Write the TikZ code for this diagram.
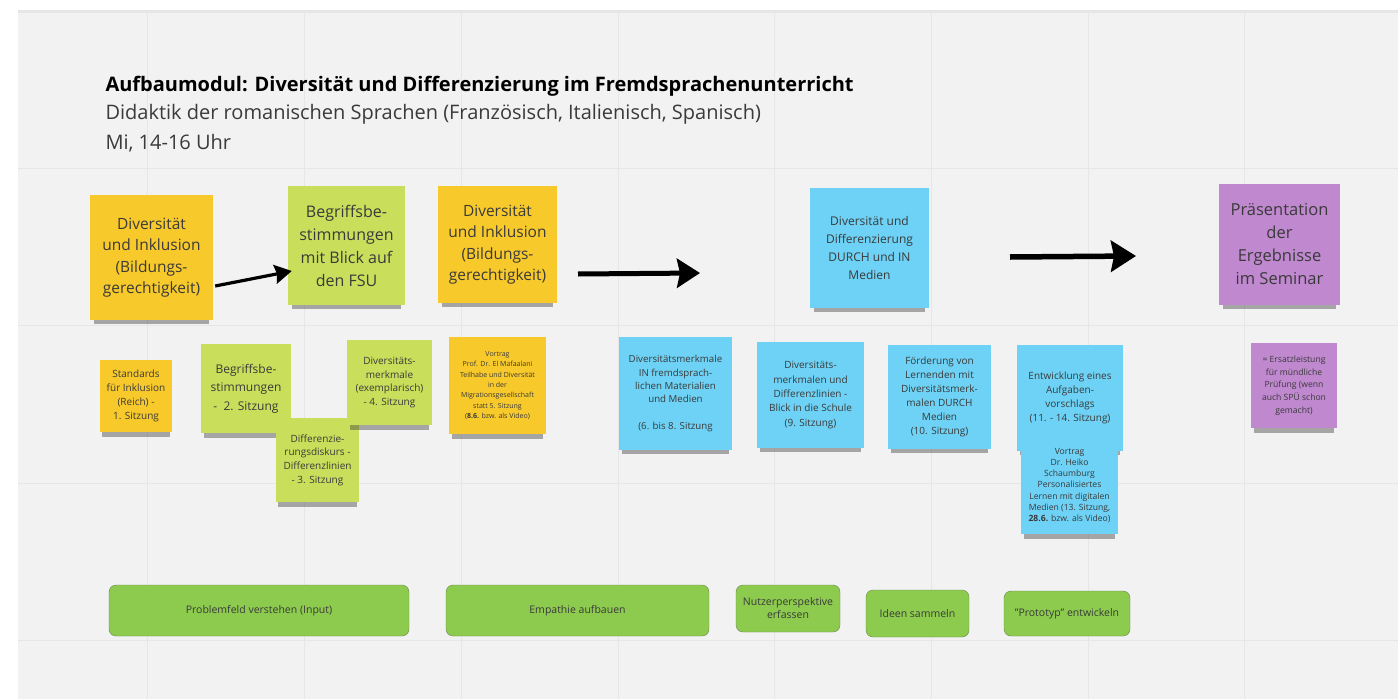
\documentclass[tikz,border=0pt]{standalone}
\usepackage{fontspec}
\setmainfont{Open Sans}
\usetikzlibrary{arrows.meta,shadows}
\definecolor{board}{HTML}{F2F2F2}
\definecolor{gridline}{HTML}{E6E6E6}
\definecolor{ngelb}{HTML}{F7C92B}
\definecolor{ngruen}{HTML}{C9DF5B}
\definecolor{nblau}{HTML}{6DD2F5}
\definecolor{nlila}{HTML}{BF88CF}
\definecolor{phasegruen}{HTML}{8DCB4F}
\definecolor{phaserand}{HTML}{6C8450}
\definecolor{notetext}{HTML}{3A3A3A}
\newcommand\fs[2]{\fontsize{#1}{#2}\selectfont}

\begin{document}
\begin{tikzpicture}[x=1pt,y=-1pt,
  note/.style={align=center,text=notetext,inner sep=2pt,
    drop shadow={shadow xshift=0pt,shadow yshift=-8pt,shadow scale=.94,opacity=.4,fill=black!80}},
  sz/.style 2 args={minimum width=#1,minimum height=#2},
  phase/.style={draw=phaserand,fill=phasegruen,rounded corners=7pt,align=center,
    text=notetext,font=\fs{10.5}{13}},
  bigarrow/.style={line width=5pt,-{Stealth[length=23pt,width=29pt,inset=3pt]}}]
\useasboundingbox (0,0) rectangle (1398,699);
\fill[white] (0,0) rectangle (1398,699);
\fill[board] (18,10) rectangle (1398,699);
\fill[gridline] (18,10) rectangle (1398,13);
\foreach \gx in {147,304,461,618,774,931,1088,1244}
  \draw[gridline,line width=1pt] (\gx,13) -- (\gx,699);
\foreach \gy in {168,325,483,640}
  \draw[gridline,line width=1pt] (18,\gy) -- (1398,\gy);

% Kopf
\node[anchor=west,font=\bfseries\fs{20}{24}] (titel) at (102,86)
  {Aufbaumodul: Diversität und Differenzierung im Fremdsprachenunterricht};
\node[anchor=west,text=notetext,font=\fs{20}{24}] (fach) at (102,114)
  {Didaktik der romanischen Sprachen (Französisch, Italienisch, Spanisch)};
\node[anchor=west,text=notetext,font=\fs{20}{24}] (zeit) at (102,143) {Mi, 14-16 Uhr};

% grosse Zettel
\node[note,fill=ngelb,sz={123}{125},font=\fs{15.5}{21.5}] (div1) at (151.5,257.5)
  {Diversität\\und Inklusion\\(Bildungs-\\gerechtigkeit)};
\node[note,fill=ngruen,sz={117}{119},font=\fs{16}{23}] (begr) at (346.5,245.5)
  {Begriffsbe-\\stimmungen\\mit Blick auf\\den FSU};
\node[note,fill=ngelb,sz={119}{117},font=\fs{15.5}{21.5}] (div2) at (497.5,244.5)
  {Diversität\\und Inklusion\\(Bildungs-\\gerechtigkeit)};
\node[note,fill=nblau,sz={119}{120},font=\fs{12}{18}] (medien) at (869.5,248)
  {Diversität und\\Differenzierung\\DURCH und IN\\Medien};
\node[note,fill=nlila,sz={121}{121},font=\fs{16.5}{23}] (praes) at (1279.5,244.5)
  {Präsentation\\der\\Ergebnisse\\im Seminar};

% kleine Zettel
\node[note,fill=ngelb,sz={72}{72},font=\fs{10}{14}] (std) at (136,396)
  {Standards\\für Inklusion\\(Reich) -\\1. Sitzung};
\node[note,fill=ngruen,sz={90}{89},font=\fs{12}{18.5}] (begr2) at (246,388.5)
  {Begriffsbe-\\stimmungen\\ - \ 2. Sitzung};
\node[note,fill=ngruen,sz={83}{84},font=\fs{10}{13.7}] (diff) at (317.5,460)
  {Differenzie-\\rungsdiskurs -\\Differenzlinien\\- 3. Sitzung};
\node[note,fill=ngruen,sz={85}{85},font=\fs{10}{13.5}] (merk) at (389.5,382.5)
  {Diversitäts-\\merkmale\\(exemplarisch)\\- 4. Sitzung};
\node[note,fill=ngelb,sz={97}{97},font=\fs{7}{10.3}] (vortrag1) at (497.5,385.5)
  {Vortrag\\Prof. Dr. El Mafaalani\\Teilhabe und Diversität\\in der\\Migrationsgesellschaft\\statt 5. Sitzung\\(\textbf{8.6.} bzw. als Video)};
\node[note,fill=nblau,sz={113}{113},font=\fs{9.7}{13.3}] (mat) at (675.5,393.5)
  {Diversitätsmerkmale\\IN fremdsprach-\\lichen Materialien\\und Medien\\[13.3pt](6. bis 8. Sitzung};
\node[note,fill=nblau,sz={107}{106},font=\fs{10}{14.3}] (schule) at (810.5,395)
  {Diversitäts-\\merkmalen und\\Differenzlinien -\\Blick in die Schule\\(9. Sitzung)};
\node[note,fill=nblau,sz={103}{104},font=\fs{10}{14}] (foerd) at (939.5,397)
  {Förderung von\\Lernenden mit\\Diversitätsmerk-\\malen DURCH\\Medien\\(10. Sitzung)};
\node[note,fill=nblau,sz={106}{106},font=\fs{10}{14}] (aufg) at (1070,398)
  {Entwicklung eines\\Aufgaben-\\vorschlags\\(11. - 14. Sitzung)};
\node[note,fill=nblau,sz={97}{97},font=\fs{8.6}{11.2}] (vortrag2) at (1069.5,485.5)
  {Vortrag\\Dr. Heiko\\Schaumburg\\Personalisiertes\\Lernen mit digitalen\\Medien (13. Sitzung,\\\textbf{28.6.} bzw. als Video)};
\node[note,fill=nlila,sz={86}{85},font=\fs{8.6}{12.7}] (ersatz) at (1294,385.5)
  {= Ersatzleistung\\für mündliche\\Prüfung (wenn\\auch SPÜ schon\\gemacht)};

% Pfeile
\coordinate (pfeilA1) at (578,274);
\coordinate (pfeilA2) at (700,273);
\coordinate (pfeilB1) at (1010,257);
\coordinate (pfeilB2) at (1136,256);
\draw[bigarrow,line width=3.2pt,-{Stealth[length=17pt,width=19pt,inset=2pt]}]
  ([xshift=2pt,yshift=-28.5pt]div1.east) -- ([xshift=4pt,yshift=-25.5pt]begr.west);
\draw[bigarrow] (pfeilA1) -- (pfeilA2);
\draw[bigarrow,line width=5.5pt,-{Stealth[length=25pt,width=31pt,inset=3pt]}] (pfeilB1) -- (pfeilB2);

% Phasen
\node[phase,sz={300}{51}] (input) at (259,610.5) {Problemfeld verstehen (Input)};
\node[phase,sz={263}{51}] (empathie) at (577.5,610.5) {Empathie aufbauen};
\node[phase,sz={104}{47},inner sep=1pt] (nutzer) at (788,608.5) {Nutzerperspektive\\erfassen};
\node[phase,sz={103}{47}] (ideen) at (917.5,613.5) {Ideen sammeln};
\node[phase,sz={126}{45}] (proto) at (1067,613.5) {"Prototyp" entwickeln};
\end{tikzpicture}
\end{document}
